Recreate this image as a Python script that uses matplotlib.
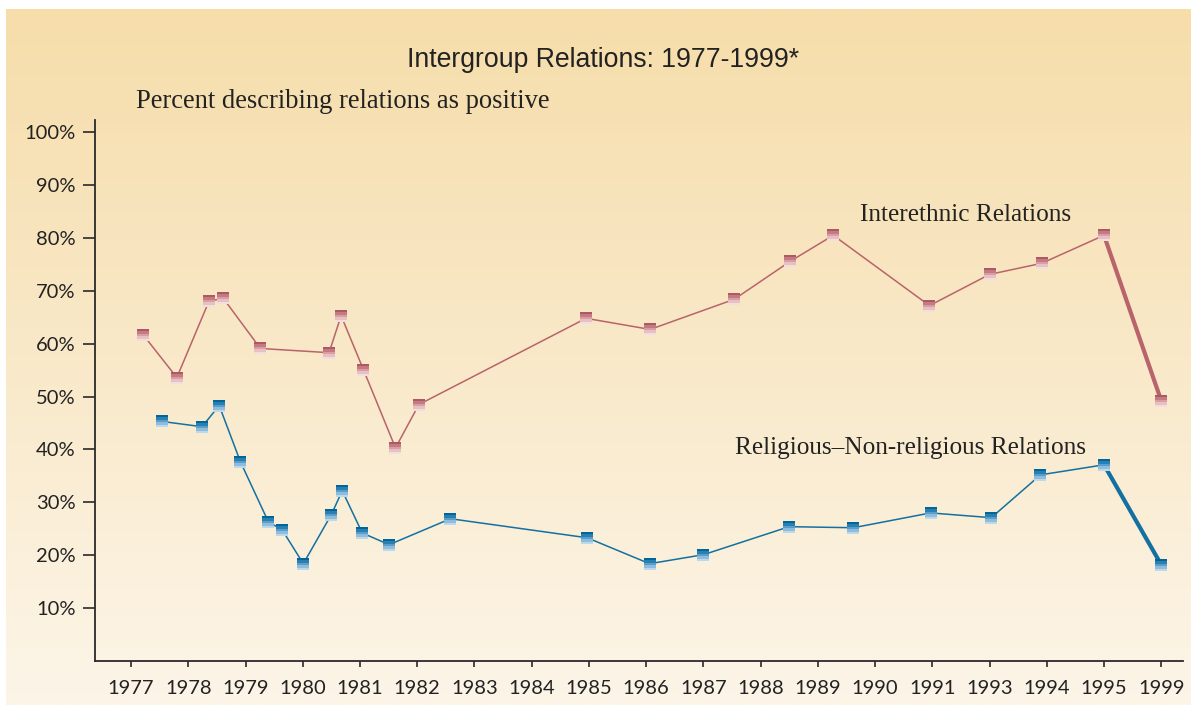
import numpy as np
import matplotlib
matplotlib.use("Agg")
import matplotlib.pyplot as plt
from matplotlib.path import Path

# tick labels (evenly spaced, 1992 skipped in the original)
tick_labels = ["1977", "1978", "1979", "1980", "1981", "1982", "1983", "1984",
               "1985", "1986", "1987", "1988", "1989", "1990", "1991", "1993",
               "1994", "1995", "1999"]

# positions are in tick-index units along the axis
inter_x = [0.21, 0.80, 1.36, 1.61, 2.26, 3.46, 3.67, 4.06, 4.62, 5.03,
           7.95, 9.07, 10.54, 11.52, 12.27, 13.95, 15.0, 15.91, 17.0, 18.0]
inter_y = [61.7, 53.6, 68.0, 68.6, 59.1, 58.3, 65.3, 55.1, 40.3, 48.5,
           64.8, 62.7, 68.4, 75.6, 80.5, 67.2, 73.1, 75.2, 80.5, 49.2]

relig_x = [0.54, 1.24, 1.54, 1.91, 2.40, 2.64, 3.01, 3.50, 3.69, 4.04, 4.51,
           5.58, 7.97, 9.06, 10.0, 11.50, 12.62, 13.97, 15.03, 15.89, 17.0, 18.0]
relig_y = [45.3, 44.3, 48.3, 37.7, 26.3, 24.8, 18.4, 27.7, 32.2, 24.2, 22.0,
           26.9, 23.3, 18.4, 20.1, 25.4, 25.2, 28.0, 27.1, 35.2, 37.1, 18.2]

red_line = "#B9636A"
blue_line = "#1470A0"
red_bands = ["#AE5861", "#C47A82", "#D89EA3", "#E8C0C2", "#F2DEDE"]
blue_bands = ["#00659A", "#2880B1", "#5B9DC8", "#8DBCDD", "#BCD9EC"]

W, H = 1191, 706
fig = plt.figure(figsize=(W / 100, H / 100), dpi=100, facecolor="white")

# gradient panel behind everything
bg = fig.add_axes([6 / W, 1 - 705 / H, 1 - 6 / W, (705 - 9) / H], zorder=0)
grad = np.linspace(0, 1, 256).reshape(-1, 1)
top = np.array([0xF6, 0xDD, 0xAA]) / 255
bot = np.array([0xFC, 0xF5, 0xE8]) / 255
img = top + (bot - top) * grad[:, :, None]
bg.imshow(img, aspect="auto", extent=[0, 1, 0, 1])
bg.axis("off")

ax = fig.add_axes([95 / W, 1 - 661 / H, (1183 - 95) / W, (661 - 120) / H], zorder=1)
ax.patch.set_alpha(0)
ax.set_xlim(-0.63, 18.38)
ax.set_ylim(0, 102.3)
for s in ["top", "right"]:
    ax.spines[s].set_visible(False)
for s in ["left", "bottom"]:
    ax.spines[s].set_color("#2a2a2a")
    ax.spines[s].set_linewidth(1.3)

ax.set_xticks(range(len(tick_labels)))
ax.set_xticklabels(tick_labels, fontfamily="Lato", fontsize=14.5, color="#222222")
ax.set_yticks(range(10, 101, 10))
ax.set_yticklabels([f"{v}%" for v in range(10, 101, 10)],
                   fontfamily="Lato", fontsize=14.5, color="#222222")
ax.tick_params(axis="x", length=4, width=1.2, color="#2a2a2a", pad=10)
ax.tick_params(axis="y", length=9, width=1.2, color="#2a2a2a", pad=5)


def band_marker(i, n=5):
    y1 = 1 - 2 * i / n
    y0 = 1 - 2 * (i + 1) / n
    verts = [(-1, y0), (1, y0), (1, y1), (-1, y1), (-1, y0)]
    codes = [Path.MOVETO, Path.LINETO, Path.LINETO, Path.LINETO, Path.CLOSEPOLY]
    return Path(verts, codes)


def draw_series(xs, ys, color, bands):
    ax.plot(xs[:-1], ys[:-1], color=color, lw=1.1, zorder=2)
    ax.plot(xs[-2:], ys[-2:], color=color, lw=3.0, zorder=2)
    for i, c in enumerate(bands):
        ax.plot(xs, ys, ls="none", marker=band_marker(i), markersize=9.3,
                markerfacecolor=c, markeredgewidth=0, zorder=3)


draw_series(inter_x, inter_y, red_line, red_bands)
draw_series(relig_x, relig_y, blue_line, blue_bands)

ax.text(12.74, 84.3, "Interethnic Relations", fontfamily="Liberation Serif",
        fontsize=18.2, color="#222222", va="center", ha="left")
ax.text(10.56, 40.3, "Religious\u2013Non-religious Relations", fontfamily="Liberation Serif",
        fontsize=18.2, color="#222222", va="center", ha="left")

fig.text(603 / W, 1 - 60 / H, "Intergroup Relations: 1977-1999*",
         fontfamily="Liberation Sans", fontsize=19.2, color="#222222",
         ha="center", va="center")
fig.text(136 / W, 1 - 101 / H, "Percent describing relations as positive",
         fontfamily="Liberation Serif", fontsize=19.1, color="#222222",
         ha="left", va="center")

fig.savefig("out.png", dpi=100, facecolor="white")
